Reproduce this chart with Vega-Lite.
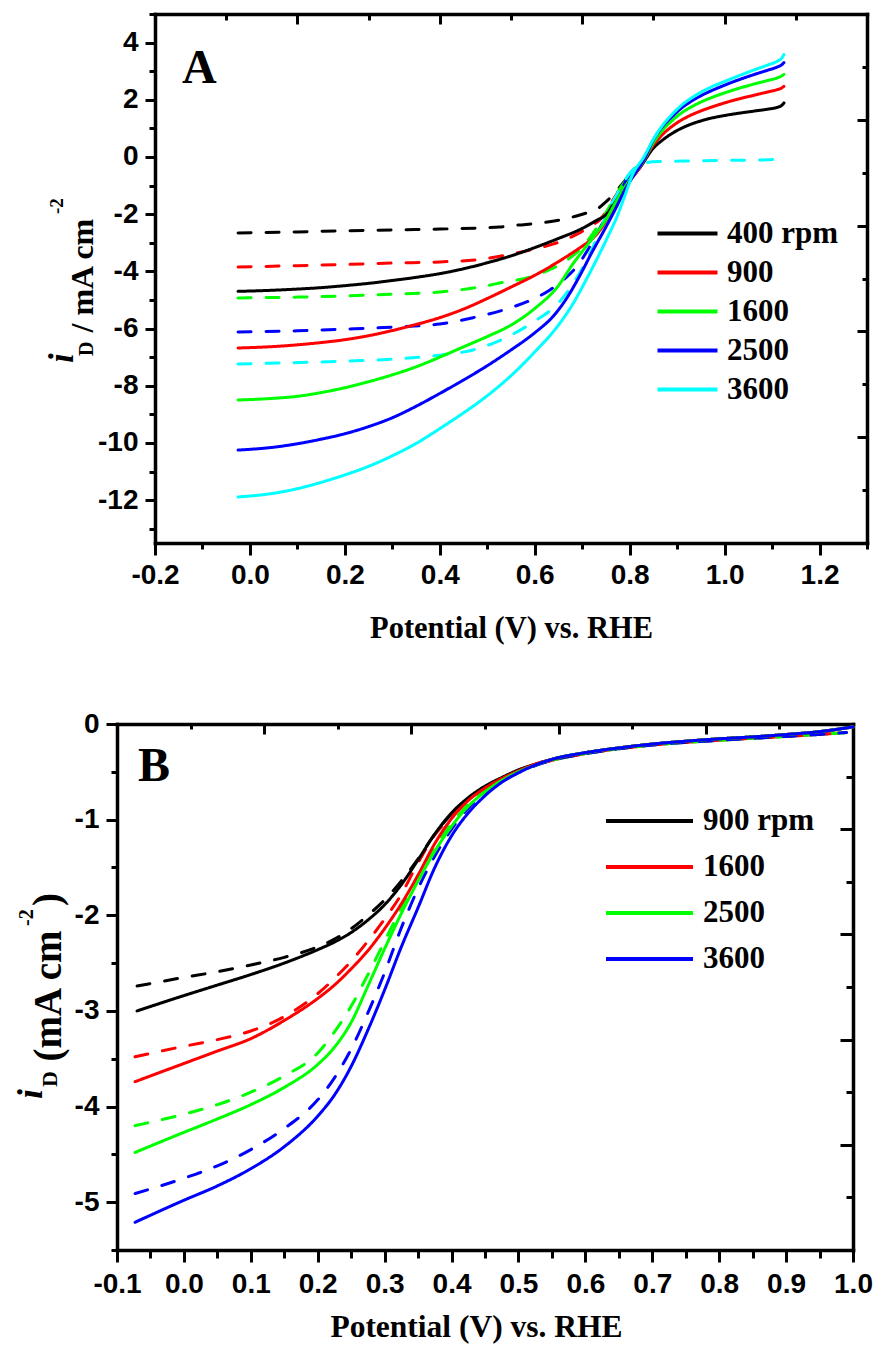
{
  "$schema": "https://vega.github.io/schema/vega-lite/v6.json",
  "padding": {"left": 7, "top": 0, "right": 4, "bottom": 2},
  "background": "white",
  "config": {
    "view": {"stroke": null},
    "axis": {
      "grid": false,
      "domainColor": "black",
      "domainWidth": 3.5,
      "domainCap": "square",
      "tickColor": "black",
      "tickWidth": 3,
      "labelColor": "black",
      "labelFont": "Liberation Sans",
      "labelFontWeight": "bold",
      "labelFontSize": 28,
      "labelFlush": false,
      "labelOverlap": false,
      "titleColor": "black",
      "titleFont": "Liberation Serif",
      "titleFontWeight": "bold"
    },
    "text": {"color": "black", "font": "Liberation Serif", "fontWeight": "bold"}
  },
  "datasets": {
    "curvesA": [
      {"rpm":"400 rpm","kind":"dashed","x":-0.025,"y":-2.66},{"rpm":"400 rpm","kind":"dashed","x":0.1,"y":-2.62},{"rpm":"400 rpm","kind":"dashed","x":0.2,"y":-2.58},{"rpm":"400 rpm","kind":"dashed","x":0.3,"y":-2.55},{"rpm":"400 rpm","kind":"dashed","x":0.4,"y":-2.52},{"rpm":"400 rpm","kind":"dashed","x":0.49,"y":-2.48},{"rpm":"400 rpm","kind":"dashed","x":0.526,"y":-2.45},{"rpm":"400 rpm","kind":"dashed","x":0.56,"y":-2.39},{"rpm":"400 rpm","kind":"dashed","x":0.617,"y":-2.3},{"rpm":"400 rpm","kind":"dashed","x":0.66,"y":-2.18},{"rpm":"400 rpm","kind":"dashed","x":0.695,"y":-2.03},{"rpm":"400 rpm","kind":"dashed","x":0.716,"y":-1.92},{"rpm":"400 rpm","kind":"dashed","x":0.735,"y":-1.78},{"rpm":"400 rpm","kind":"dashed","x":0.75,"y":-1.57},{"rpm":"400 rpm","kind":"dashed","x":0.765,"y":-1.32},{"rpm":"400 rpm","kind":"dashed","x":0.779,"y":-1.05},{"rpm":"400 rpm","kind":"dashed","x":0.795,"y":-0.72},{"rpm":"400 rpm","kind":"dashed","x":0.807,"y":-0.46},{"rpm":"400 rpm","kind":"dashed","x":0.815,"y":-0.36},
      {"rpm":"900","kind":"dashed","x":-0.025,"y":-3.85},{"rpm":"900","kind":"dashed","x":0.1,"y":-3.8},{"rpm":"900","kind":"dashed","x":0.2,"y":-3.76},{"rpm":"900","kind":"dashed","x":0.3,"y":-3.71},{"rpm":"900","kind":"dashed","x":0.4,"y":-3.67},{"rpm":"900","kind":"dashed","x":0.49,"y":-3.57},{"rpm":"900","kind":"dashed","x":0.554,"y":-3.38},{"rpm":"900","kind":"dashed","x":0.6,"y":-3.22},{"rpm":"900","kind":"dashed","x":0.638,"y":-3.05},{"rpm":"900","kind":"dashed","x":0.67,"y":-2.85},{"rpm":"900","kind":"dashed","x":0.7,"y":-2.6},{"rpm":"900","kind":"dashed","x":0.722,"y":-2.38},{"rpm":"900","kind":"dashed","x":0.737,"y":-2.2},{"rpm":"900","kind":"dashed","x":0.75,"y":-1.92},{"rpm":"900","kind":"dashed","x":0.765,"y":-1.5},{"rpm":"900","kind":"dashed","x":0.78,"y":-1.1},{"rpm":"900","kind":"dashed","x":0.795,"y":-0.75},{"rpm":"900","kind":"dashed","x":0.807,"y":-0.46},{"rpm":"900","kind":"dashed","x":0.815,"y":-0.36},
      {"rpm":"1600","kind":"dashed","x":-0.025,"y":-4.93},{"rpm":"1600","kind":"dashed","x":0.1,"y":-4.9},{"rpm":"1600","kind":"dashed","x":0.2,"y":-4.86},{"rpm":"1600","kind":"dashed","x":0.3,"y":-4.8},{"rpm":"1600","kind":"dashed","x":0.4,"y":-4.72},{"rpm":"1600","kind":"dashed","x":0.49,"y":-4.53},{"rpm":"1600","kind":"dashed","x":0.526,"y":-4.41},{"rpm":"1600","kind":"dashed","x":0.596,"y":-4.17},{"rpm":"1600","kind":"dashed","x":0.63,"y":-3.95},{"rpm":"1600","kind":"dashed","x":0.667,"y":-3.62},{"rpm":"1600","kind":"dashed","x":0.7,"y":-3.15},{"rpm":"1600","kind":"dashed","x":0.723,"y":-2.66},{"rpm":"1600","kind":"dashed","x":0.737,"y":-2.3},{"rpm":"1600","kind":"dashed","x":0.75,"y":-1.95},{"rpm":"1600","kind":"dashed","x":0.765,"y":-1.52},{"rpm":"1600","kind":"dashed","x":0.78,"y":-1.1},{"rpm":"1600","kind":"dashed","x":0.795,"y":-0.75},{"rpm":"1600","kind":"dashed","x":0.807,"y":-0.46},{"rpm":"1600","kind":"dashed","x":0.815,"y":-0.36},
      {"rpm":"2500","kind":"dashed","x":-0.025,"y":-6.12},{"rpm":"2500","kind":"dashed","x":0.1,"y":-6.08},{"rpm":"2500","kind":"dashed","x":0.2,"y":-6.02},{"rpm":"2500","kind":"dashed","x":0.3,"y":-5.95},{"rpm":"2500","kind":"dashed","x":0.4,"y":-5.84},{"rpm":"2500","kind":"dashed","x":0.47,"y":-5.62},{"rpm":"2500","kind":"dashed","x":0.54,"y":-5.32},{"rpm":"2500","kind":"dashed","x":0.59,"y":-5.02},{"rpm":"2500","kind":"dashed","x":0.632,"y":-4.65},{"rpm":"2500","kind":"dashed","x":0.66,"y":-4.3},{"rpm":"2500","kind":"dashed","x":0.688,"y":-3.84},{"rpm":"2500","kind":"dashed","x":0.71,"y":-3.3},{"rpm":"2500","kind":"dashed","x":0.73,"y":-2.7},{"rpm":"2500","kind":"dashed","x":0.745,"y":-2.25},{"rpm":"2500","kind":"dashed","x":0.76,"y":-1.8},{"rpm":"2500","kind":"dashed","x":0.775,"y":-1.35},{"rpm":"2500","kind":"dashed","x":0.79,"y":-0.9},{"rpm":"2500","kind":"dashed","x":0.807,"y":-0.46},{"rpm":"2500","kind":"dashed","x":0.815,"y":-0.36},
      {"rpm":"3600","kind":"dashed","x":-0.025,"y":-7.24},{"rpm":"3600","kind":"dashed","x":0.1,"y":-7.19},{"rpm":"3600","kind":"dashed","x":0.2,"y":-7.14},{"rpm":"3600","kind":"dashed","x":0.3,"y":-7.07},{"rpm":"3600","kind":"dashed","x":0.4,"y":-6.93},{"rpm":"3600","kind":"dashed","x":0.47,"y":-6.75},{"rpm":"3600","kind":"dashed","x":0.526,"y":-6.42},{"rpm":"3600","kind":"dashed","x":0.596,"y":-5.78},{"rpm":"3600","kind":"dashed","x":0.653,"y":-5.05},{"rpm":"3600","kind":"dashed","x":0.68,"y":-4.45},{"rpm":"3600","kind":"dashed","x":0.709,"y":-3.62},{"rpm":"3600","kind":"dashed","x":0.737,"y":-2.6},{"rpm":"3600","kind":"dashed","x":0.755,"y":-1.85},{"rpm":"3600","kind":"dashed","x":0.77,"y":-1.4},{"rpm":"3600","kind":"dashed","x":0.785,"y":-0.95},{"rpm":"3600","kind":"dashed","x":0.8,"y":-0.58},{"rpm":"3600","kind":"dashed","x":0.81,"y":-0.4},{"rpm":"3600","kind":"dashed","x":0.82,"y":-0.28},{"rpm":"3600","kind":"dashed","x":0.835,"y":-0.2},{"rpm":"3600","kind":"dashed","x":0.86,"y":-0.16},{"rpm":"3600","kind":"dashed","x":0.891,"y":-0.15},{"rpm":"3600","kind":"dashed","x":0.95,"y":-0.13},{"rpm":"3600","kind":"dashed","x":1.0,"y":-0.12},{"rpm":"3600","kind":"dashed","x":1.05,"y":-0.11},{"rpm":"3600","kind":"dashed","x":1.09,"y":-0.1},{"rpm":"3600","kind":"dashed","x":1.11,"y":-0.07},{"rpm":"3600","kind":"dashed","x":1.12,"y":0.02},{"rpm":"3600","kind":"dashed","x":1.125,"y":0.14},
      {"rpm":"400 rpm","kind":"solid","x":-0.025,"y":-4.7},{"rpm":"400 rpm","kind":"solid","x":0.05,"y":-4.66},{"rpm":"400 rpm","kind":"solid","x":0.1,"y":-4.62},{"rpm":"400 rpm","kind":"solid","x":0.15,"y":-4.57},{"rpm":"400 rpm","kind":"solid","x":0.2,"y":-4.5},{"rpm":"400 rpm","kind":"solid","x":0.25,"y":-4.42},{"rpm":"400 rpm","kind":"solid","x":0.3,"y":-4.32},{"rpm":"400 rpm","kind":"solid","x":0.35,"y":-4.21},{"rpm":"400 rpm","kind":"solid","x":0.4,"y":-4.08},{"rpm":"400 rpm","kind":"solid","x":0.45,"y":-3.91},{"rpm":"400 rpm","kind":"solid","x":0.5,"y":-3.7},{"rpm":"400 rpm","kind":"solid","x":0.55,"y":-3.46},{"rpm":"400 rpm","kind":"solid","x":0.6,"y":-3.17},{"rpm":"400 rpm","kind":"solid","x":0.65,"y":-2.85},{"rpm":"400 rpm","kind":"solid","x":0.7,"y":-2.5},{"rpm":"400 rpm","kind":"solid","x":0.73,"y":-2.22},{"rpm":"400 rpm","kind":"solid","x":0.75,"y":-2.02},{"rpm":"400 rpm","kind":"solid","x":0.773,"y":-1.5},{"rpm":"400 rpm","kind":"solid","x":0.79,"y":-1.05},{"rpm":"400 rpm","kind":"solid","x":0.805,"y":-0.72},{"rpm":"400 rpm","kind":"solid","x":0.821,"y":-0.39},{"rpm":"400 rpm","kind":"solid","x":0.85,"y":0.31},{"rpm":"400 rpm","kind":"solid","x":0.87,"y":0.6},{"rpm":"400 rpm","kind":"solid","x":0.89,"y":0.83},{"rpm":"400 rpm","kind":"solid","x":0.91,"y":1.01},{"rpm":"400 rpm","kind":"solid","x":0.93,"y":1.15},{"rpm":"400 rpm","kind":"solid","x":0.95,"y":1.26},{"rpm":"400 rpm","kind":"solid","x":0.97,"y":1.35},{"rpm":"400 rpm","kind":"solid","x":1.0,"y":1.45},{"rpm":"400 rpm","kind":"solid","x":1.03,"y":1.53},{"rpm":"400 rpm","kind":"solid","x":1.06,"y":1.6},{"rpm":"400 rpm","kind":"solid","x":1.09,"y":1.67},{"rpm":"400 rpm","kind":"solid","x":1.11,"y":1.73},{"rpm":"400 rpm","kind":"solid","x":1.12,"y":1.8},{"rpm":"400 rpm","kind":"solid","x":1.125,"y":1.89},
      {"rpm":"900","kind":"solid","x":-0.025,"y":-6.68},{"rpm":"900","kind":"solid","x":0.05,"y":-6.63},{"rpm":"900","kind":"solid","x":0.1,"y":-6.57},{"rpm":"900","kind":"solid","x":0.15,"y":-6.49},{"rpm":"900","kind":"solid","x":0.2,"y":-6.39},{"rpm":"900","kind":"solid","x":0.25,"y":-6.25},{"rpm":"900","kind":"solid","x":0.3,"y":-6.07},{"rpm":"900","kind":"solid","x":0.35,"y":-5.86},{"rpm":"900","kind":"solid","x":0.4,"y":-5.62},{"rpm":"900","kind":"solid","x":0.45,"y":-5.32},{"rpm":"900","kind":"solid","x":0.5,"y":-4.95},{"rpm":"900","kind":"solid","x":0.55,"y":-4.55},{"rpm":"900","kind":"solid","x":0.6,"y":-4.14},{"rpm":"900","kind":"solid","x":0.65,"y":-3.66},{"rpm":"900","kind":"solid","x":0.7,"y":-3.12},{"rpm":"900","kind":"solid","x":0.72,"y":-2.88},{"rpm":"900","kind":"solid","x":0.74,"y":-2.5},{"rpm":"900","kind":"solid","x":0.76,"y":-1.95},{"rpm":"900","kind":"solid","x":0.78,"y":-1.35},{"rpm":"900","kind":"solid","x":0.8,"y":-0.85},{"rpm":"900","kind":"solid","x":0.82,"y":-0.4},{"rpm":"900","kind":"solid","x":0.85,"y":0.42},{"rpm":"900","kind":"solid","x":0.87,"y":0.8},{"rpm":"900","kind":"solid","x":0.89,"y":1.08},{"rpm":"900","kind":"solid","x":0.91,"y":1.3},{"rpm":"900","kind":"solid","x":0.93,"y":1.47},{"rpm":"900","kind":"solid","x":0.95,"y":1.61},{"rpm":"900","kind":"solid","x":0.97,"y":1.73},{"rpm":"900","kind":"solid","x":1.0,"y":1.89},{"rpm":"900","kind":"solid","x":1.03,"y":2.03},{"rpm":"900","kind":"solid","x":1.06,"y":2.15},{"rpm":"900","kind":"solid","x":1.09,"y":2.27},{"rpm":"900","kind":"solid","x":1.11,"y":2.35},{"rpm":"900","kind":"solid","x":1.12,"y":2.41},{"rpm":"900","kind":"solid","x":1.125,"y":2.47},
      {"rpm":"1600","kind":"solid","x":-0.025,"y":-8.5},{"rpm":"1600","kind":"solid","x":0.05,"y":-8.44},{"rpm":"1600","kind":"solid","x":0.1,"y":-8.37},{"rpm":"1600","kind":"solid","x":0.15,"y":-8.24},{"rpm":"1600","kind":"solid","x":0.2,"y":-8.07},{"rpm":"1600","kind":"solid","x":0.25,"y":-7.86},{"rpm":"1600","kind":"solid","x":0.3,"y":-7.62},{"rpm":"1600","kind":"solid","x":0.35,"y":-7.34},{"rpm":"1600","kind":"solid","x":0.4,"y":-7.0},{"rpm":"1600","kind":"solid","x":0.45,"y":-6.64},{"rpm":"1600","kind":"solid","x":0.5,"y":-6.28},{"rpm":"1600","kind":"solid","x":0.55,"y":-5.88},{"rpm":"1600","kind":"solid","x":0.6,"y":-5.3},{"rpm":"1600","kind":"solid","x":0.65,"y":-4.5},{"rpm":"1600","kind":"solid","x":0.68,"y":-3.75},{"rpm":"1600","kind":"solid","x":0.705,"y":-3.2},{"rpm":"1600","kind":"solid","x":0.73,"y":-2.66},{"rpm":"1600","kind":"solid","x":0.75,"y":-2.2},{"rpm":"1600","kind":"solid","x":0.77,"y":-1.6},{"rpm":"1600","kind":"solid","x":0.79,"y":-1.05},{"rpm":"1600","kind":"solid","x":0.81,"y":-0.58},{"rpm":"1600","kind":"solid","x":0.825,"y":-0.25},{"rpm":"1600","kind":"solid","x":0.85,"y":0.5},{"rpm":"1600","kind":"solid","x":0.87,"y":0.95},{"rpm":"1600","kind":"solid","x":0.89,"y":1.28},{"rpm":"1600","kind":"solid","x":0.91,"y":1.55},{"rpm":"1600","kind":"solid","x":0.93,"y":1.75},{"rpm":"1600","kind":"solid","x":0.95,"y":1.92},{"rpm":"1600","kind":"solid","x":0.97,"y":2.06},{"rpm":"1600","kind":"solid","x":1.0,"y":2.24},{"rpm":"1600","kind":"solid","x":1.03,"y":2.4},{"rpm":"1600","kind":"solid","x":1.06,"y":2.54},{"rpm":"1600","kind":"solid","x":1.09,"y":2.67},{"rpm":"1600","kind":"solid","x":1.11,"y":2.76},{"rpm":"1600","kind":"solid","x":1.12,"y":2.83},{"rpm":"1600","kind":"solid","x":1.125,"y":2.89},
      {"rpm":"2500","kind":"solid","x":-0.025,"y":-10.25},{"rpm":"2500","kind":"solid","x":0.05,"y":-10.15},{"rpm":"2500","kind":"solid","x":0.1,"y":-10.03},{"rpm":"2500","kind":"solid","x":0.15,"y":-9.87},{"rpm":"2500","kind":"solid","x":0.2,"y":-9.68},{"rpm":"2500","kind":"solid","x":0.25,"y":-9.43},{"rpm":"2500","kind":"solid","x":0.3,"y":-9.12},{"rpm":"2500","kind":"solid","x":0.35,"y":-8.72},{"rpm":"2500","kind":"solid","x":0.4,"y":-8.27},{"rpm":"2500","kind":"solid","x":0.45,"y":-7.8},{"rpm":"2500","kind":"solid","x":0.5,"y":-7.3},{"rpm":"2500","kind":"solid","x":0.55,"y":-6.75},{"rpm":"2500","kind":"solid","x":0.6,"y":-6.15},{"rpm":"2500","kind":"solid","x":0.64,"y":-5.55},{"rpm":"2500","kind":"solid","x":0.667,"y":-4.95},{"rpm":"2500","kind":"solid","x":0.695,"y":-4.15},{"rpm":"2500","kind":"solid","x":0.72,"y":-3.35},{"rpm":"2500","kind":"solid","x":0.75,"y":-2.45},{"rpm":"2500","kind":"solid","x":0.77,"y":-1.82},{"rpm":"2500","kind":"solid","x":0.79,"y":-1.15},{"rpm":"2500","kind":"solid","x":0.81,"y":-0.6},{"rpm":"2500","kind":"solid","x":0.83,"y":-0.1},{"rpm":"2500","kind":"solid","x":0.85,"y":0.6},{"rpm":"2500","kind":"solid","x":0.87,"y":1.08},{"rpm":"2500","kind":"solid","x":0.89,"y":1.42},{"rpm":"2500","kind":"solid","x":0.91,"y":1.72},{"rpm":"2500","kind":"solid","x":0.93,"y":1.95},{"rpm":"2500","kind":"solid","x":0.95,"y":2.14},{"rpm":"2500","kind":"solid","x":0.97,"y":2.3},{"rpm":"2500","kind":"solid","x":1.0,"y":2.51},{"rpm":"2500","kind":"solid","x":1.03,"y":2.7},{"rpm":"2500","kind":"solid","x":1.06,"y":2.87},{"rpm":"2500","kind":"solid","x":1.09,"y":3.03},{"rpm":"2500","kind":"solid","x":1.11,"y":3.14},{"rpm":"2500","kind":"solid","x":1.12,"y":3.22},{"rpm":"2500","kind":"solid","x":1.125,"y":3.3},
      {"rpm":"3600","kind":"solid","x":-0.025,"y":-11.89},{"rpm":"3600","kind":"solid","x":0.05,"y":-11.76},{"rpm":"3600","kind":"solid","x":0.1,"y":-11.6},{"rpm":"3600","kind":"solid","x":0.15,"y":-11.38},{"rpm":"3600","kind":"solid","x":0.2,"y":-11.12},{"rpm":"3600","kind":"solid","x":0.25,"y":-10.82},{"rpm":"3600","kind":"solid","x":0.3,"y":-10.45},{"rpm":"3600","kind":"solid","x":0.35,"y":-10.02},{"rpm":"3600","kind":"solid","x":0.4,"y":-9.5},{"rpm":"3600","kind":"solid","x":0.45,"y":-8.95},{"rpm":"3600","kind":"solid","x":0.5,"y":-8.35},{"rpm":"3600","kind":"solid","x":0.55,"y":-7.65},{"rpm":"3600","kind":"solid","x":0.6,"y":-6.82},{"rpm":"3600","kind":"solid","x":0.65,"y":-5.88},{"rpm":"3600","kind":"solid","x":0.68,"y":-5.15},{"rpm":"3600","kind":"solid","x":0.705,"y":-4.4},{"rpm":"3600","kind":"solid","x":0.73,"y":-3.6},{"rpm":"3600","kind":"solid","x":0.755,"y":-2.75},{"rpm":"3600","kind":"solid","x":0.773,"y":-2.1},{"rpm":"3600","kind":"solid","x":0.79,"y":-1.35},{"rpm":"3600","kind":"solid","x":0.806,"y":-0.62},{"rpm":"3600","kind":"solid","x":0.83,"y":0.0},{"rpm":"3600","kind":"solid","x":0.85,"y":0.62},{"rpm":"3600","kind":"solid","x":0.87,"y":1.12},{"rpm":"3600","kind":"solid","x":0.89,"y":1.5},{"rpm":"3600","kind":"solid","x":0.91,"y":1.82},{"rpm":"3600","kind":"solid","x":0.93,"y":2.06},{"rpm":"3600","kind":"solid","x":0.95,"y":2.26},{"rpm":"3600","kind":"solid","x":0.97,"y":2.43},{"rpm":"3600","kind":"solid","x":1.0,"y":2.64},{"rpm":"3600","kind":"solid","x":1.03,"y":2.84},{"rpm":"3600","kind":"solid","x":1.06,"y":3.03},{"rpm":"3600","kind":"solid","x":1.09,"y":3.21},{"rpm":"3600","kind":"solid","x":1.11,"y":3.34},{"rpm":"3600","kind":"solid","x":1.12,"y":3.45},{"rpm":"3600","kind":"solid","x":1.125,"y":3.58}
    ],
    "curvesB": [
      {"rpm":"900 rpm","kind":"dashed","x":-0.07,"y":-2.74},{"rpm":"900 rpm","kind":"dashed","x":0.0,"y":-2.65},{"rpm":"900 rpm","kind":"dashed","x":0.05,"y":-2.59},{"rpm":"900 rpm","kind":"dashed","x":0.1,"y":-2.52},{"rpm":"900 rpm","kind":"dashed","x":0.15,"y":-2.44},{"rpm":"900 rpm","kind":"dashed","x":0.2,"y":-2.33},{"rpm":"900 rpm","kind":"dashed","x":0.225,"y":-2.25},{"rpm":"900 rpm","kind":"dashed","x":0.25,"y":-2.14},{"rpm":"900 rpm","kind":"dashed","x":0.275,"y":-2.0},{"rpm":"900 rpm","kind":"dashed","x":0.3,"y":-1.84},{"rpm":"900 rpm","kind":"dashed","x":0.325,"y":-1.64},{"rpm":"900 rpm","kind":"dashed","x":0.35,"y":-1.41},{"rpm":"900 rpm","kind":"dashed","x":0.375,"y":-1.15},{"rpm":"900 rpm","kind":"dashed","x":0.4,"y":-0.94},{"rpm":"900 rpm","kind":"dashed","x":0.425,"y":-0.78},{"rpm":"900 rpm","kind":"dashed","x":0.45,"y":-0.66},{"rpm":"900 rpm","kind":"dashed","x":0.5,"y":-0.49},{"rpm":"900 rpm","kind":"dashed","x":0.55,"y":-0.38},{"rpm":"900 rpm","kind":"dashed","x":0.6,"y":-0.31},{"rpm":"900 rpm","kind":"dashed","x":0.7,"y":-0.22},{"rpm":"900 rpm","kind":"dashed","x":0.8,"y":-0.17},{"rpm":"900 rpm","kind":"dashed","x":0.9,"y":-0.13},{"rpm":"900 rpm","kind":"dashed","x":0.99,"y":-0.09},
      {"rpm":"1600","kind":"dashed","x":-0.073,"y":-3.48},{"rpm":"1600","kind":"dashed","x":0.0,"y":-3.37},{"rpm":"1600","kind":"dashed","x":0.05,"y":-3.3},{"rpm":"1600","kind":"dashed","x":0.1,"y":-3.21},{"rpm":"1600","kind":"dashed","x":0.15,"y":-3.06},{"rpm":"1600","kind":"dashed","x":0.2,"y":-2.82},{"rpm":"1600","kind":"dashed","x":0.225,"y":-2.66},{"rpm":"1600","kind":"dashed","x":0.25,"y":-2.48},{"rpm":"1600","kind":"dashed","x":0.275,"y":-2.27},{"rpm":"1600","kind":"dashed","x":0.3,"y":-2.04},{"rpm":"1600","kind":"dashed","x":0.325,"y":-1.78},{"rpm":"1600","kind":"dashed","x":0.35,"y":-1.45},{"rpm":"1600","kind":"dashed","x":0.375,"y":-1.16},{"rpm":"1600","kind":"dashed","x":0.4,"y":-0.96},{"rpm":"1600","kind":"dashed","x":0.425,"y":-0.79},{"rpm":"1600","kind":"dashed","x":0.45,"y":-0.67},{"rpm":"1600","kind":"dashed","x":0.5,"y":-0.49},{"rpm":"1600","kind":"dashed","x":0.55,"y":-0.38},{"rpm":"1600","kind":"dashed","x":0.6,"y":-0.31},{"rpm":"1600","kind":"dashed","x":0.7,"y":-0.22},{"rpm":"1600","kind":"dashed","x":0.8,"y":-0.17},{"rpm":"1600","kind":"dashed","x":0.9,"y":-0.13},{"rpm":"1600","kind":"dashed","x":0.99,"y":-0.09},
      {"rpm":"2500","kind":"dashed","x":-0.073,"y":-4.2},{"rpm":"2500","kind":"dashed","x":0.0,"y":-4.08},{"rpm":"2500","kind":"dashed","x":0.05,"y":-3.98},{"rpm":"2500","kind":"dashed","x":0.1,"y":-3.85},{"rpm":"2500","kind":"dashed","x":0.15,"y":-3.68},{"rpm":"2500","kind":"dashed","x":0.2,"y":-3.44},{"rpm":"2500","kind":"dashed","x":0.225,"y":-3.22},{"rpm":"2500","kind":"dashed","x":0.25,"y":-2.95},{"rpm":"2500","kind":"dashed","x":0.275,"y":-2.62},{"rpm":"2500","kind":"dashed","x":0.3,"y":-2.27},{"rpm":"2500","kind":"dashed","x":0.325,"y":-1.92},{"rpm":"2500","kind":"dashed","x":0.35,"y":-1.58},{"rpm":"2500","kind":"dashed","x":0.375,"y":-1.28},{"rpm":"2500","kind":"dashed","x":0.4,"y":-1.04},{"rpm":"2500","kind":"dashed","x":0.425,"y":-0.84},{"rpm":"2500","kind":"dashed","x":0.45,"y":-0.69},{"rpm":"2500","kind":"dashed","x":0.5,"y":-0.5},{"rpm":"2500","kind":"dashed","x":0.55,"y":-0.38},{"rpm":"2500","kind":"dashed","x":0.6,"y":-0.31},{"rpm":"2500","kind":"dashed","x":0.7,"y":-0.22},{"rpm":"2500","kind":"dashed","x":0.8,"y":-0.17},{"rpm":"2500","kind":"dashed","x":0.9,"y":-0.13},{"rpm":"2500","kind":"dashed","x":0.99,"y":-0.09},
      {"rpm":"3600","kind":"dashed","x":-0.073,"y":-4.91},{"rpm":"3600","kind":"dashed","x":0.0,"y":-4.75},{"rpm":"3600","kind":"dashed","x":0.05,"y":-4.62},{"rpm":"3600","kind":"dashed","x":0.1,"y":-4.45},{"rpm":"3600","kind":"dashed","x":0.15,"y":-4.23},{"rpm":"3600","kind":"dashed","x":0.2,"y":-3.93},{"rpm":"3600","kind":"dashed","x":0.225,"y":-3.7},{"rpm":"3600","kind":"dashed","x":0.25,"y":-3.4},{"rpm":"3600","kind":"dashed","x":0.275,"y":-3.02},{"rpm":"3600","kind":"dashed","x":0.3,"y":-2.6},{"rpm":"3600","kind":"dashed","x":0.325,"y":-2.13},{"rpm":"3600","kind":"dashed","x":0.35,"y":-1.72},{"rpm":"3600","kind":"dashed","x":0.375,"y":-1.38},{"rpm":"3600","kind":"dashed","x":0.4,"y":-1.1},{"rpm":"3600","kind":"dashed","x":0.425,"y":-0.88},{"rpm":"3600","kind":"dashed","x":0.45,"y":-0.72},{"rpm":"3600","kind":"dashed","x":0.5,"y":-0.51},{"rpm":"3600","kind":"dashed","x":0.55,"y":-0.38},{"rpm":"3600","kind":"dashed","x":0.6,"y":-0.31},{"rpm":"3600","kind":"dashed","x":0.7,"y":-0.22},{"rpm":"3600","kind":"dashed","x":0.8,"y":-0.17},{"rpm":"3600","kind":"dashed","x":0.9,"y":-0.13},{"rpm":"3600","kind":"dashed","x":0.99,"y":-0.09},
      {"rpm":"900 rpm","kind":"solid","x":-0.07,"y":-3.0},{"rpm":"900 rpm","kind":"solid","x":0.0,"y":-2.84},{"rpm":"900 rpm","kind":"solid","x":0.05,"y":-2.73},{"rpm":"900 rpm","kind":"solid","x":0.1,"y":-2.62},{"rpm":"900 rpm","kind":"solid","x":0.15,"y":-2.5},{"rpm":"900 rpm","kind":"solid","x":0.2,"y":-2.36},{"rpm":"900 rpm","kind":"solid","x":0.225,"y":-2.28},{"rpm":"900 rpm","kind":"solid","x":0.25,"y":-2.18},{"rpm":"900 rpm","kind":"solid","x":0.275,"y":-2.05},{"rpm":"900 rpm","kind":"solid","x":0.3,"y":-1.89},{"rpm":"900 rpm","kind":"solid","x":0.325,"y":-1.68},{"rpm":"900 rpm","kind":"solid","x":0.35,"y":-1.42},{"rpm":"900 rpm","kind":"solid","x":0.375,"y":-1.15},{"rpm":"900 rpm","kind":"solid","x":0.4,"y":-0.93},{"rpm":"900 rpm","kind":"solid","x":0.425,"y":-0.77},{"rpm":"900 rpm","kind":"solid","x":0.45,"y":-0.65},{"rpm":"900 rpm","kind":"solid","x":0.475,"y":-0.56},{"rpm":"900 rpm","kind":"solid","x":0.5,"y":-0.48},{"rpm":"900 rpm","kind":"solid","x":0.525,"y":-0.42},{"rpm":"900 rpm","kind":"solid","x":0.55,"y":-0.37},{"rpm":"900 rpm","kind":"solid","x":0.6,"y":-0.3},{"rpm":"900 rpm","kind":"solid","x":0.65,"y":-0.25},{"rpm":"900 rpm","kind":"solid","x":0.7,"y":-0.21},{"rpm":"900 rpm","kind":"solid","x":0.75,"y":-0.18},{"rpm":"900 rpm","kind":"solid","x":0.8,"y":-0.155},{"rpm":"900 rpm","kind":"solid","x":0.85,"y":-0.135},{"rpm":"900 rpm","kind":"solid","x":0.9,"y":-0.11},{"rpm":"900 rpm","kind":"solid","x":0.95,"y":-0.08},{"rpm":"900 rpm","kind":"solid","x":1.0,"y":-0.03},
      {"rpm":"1600","kind":"solid","x":-0.073,"y":-3.74},{"rpm":"1600","kind":"solid","x":0.0,"y":-3.55},{"rpm":"1600","kind":"solid","x":0.05,"y":-3.42},{"rpm":"1600","kind":"solid","x":0.1,"y":-3.29},{"rpm":"1600","kind":"solid","x":0.15,"y":-3.1},{"rpm":"1600","kind":"solid","x":0.2,"y":-2.87},{"rpm":"1600","kind":"solid","x":0.225,"y":-2.73},{"rpm":"1600","kind":"solid","x":0.25,"y":-2.56},{"rpm":"1600","kind":"solid","x":0.275,"y":-2.37},{"rpm":"1600","kind":"solid","x":0.3,"y":-2.14},{"rpm":"1600","kind":"solid","x":0.325,"y":-1.88},{"rpm":"1600","kind":"solid","x":0.35,"y":-1.58},{"rpm":"1600","kind":"solid","x":0.375,"y":-1.25},{"rpm":"1600","kind":"solid","x":0.4,"y":-0.99},{"rpm":"1600","kind":"solid","x":0.425,"y":-0.8},{"rpm":"1600","kind":"solid","x":0.45,"y":-0.67},{"rpm":"1600","kind":"solid","x":0.475,"y":-0.57},{"rpm":"1600","kind":"solid","x":0.5,"y":-0.49},{"rpm":"1600","kind":"solid","x":0.525,"y":-0.42},{"rpm":"1600","kind":"solid","x":0.55,"y":-0.37},{"rpm":"1600","kind":"solid","x":0.6,"y":-0.3},{"rpm":"1600","kind":"solid","x":0.65,"y":-0.25},{"rpm":"1600","kind":"solid","x":0.7,"y":-0.21},{"rpm":"1600","kind":"solid","x":0.75,"y":-0.18},{"rpm":"1600","kind":"solid","x":0.8,"y":-0.155},{"rpm":"1600","kind":"solid","x":0.85,"y":-0.135},{"rpm":"1600","kind":"solid","x":0.9,"y":-0.11},{"rpm":"1600","kind":"solid","x":0.95,"y":-0.08},{"rpm":"1600","kind":"solid","x":1.0,"y":-0.03},
      {"rpm":"2500","kind":"solid","x":-0.073,"y":-4.48},{"rpm":"2500","kind":"solid","x":0.0,"y":-4.27},{"rpm":"2500","kind":"solid","x":0.05,"y":-4.13},{"rpm":"2500","kind":"solid","x":0.1,"y":-3.98},{"rpm":"2500","kind":"solid","x":0.15,"y":-3.8},{"rpm":"2500","kind":"solid","x":0.2,"y":-3.56},{"rpm":"2500","kind":"solid","x":0.225,"y":-3.38},{"rpm":"2500","kind":"solid","x":0.25,"y":-3.12},{"rpm":"2500","kind":"solid","x":0.275,"y":-2.74},{"rpm":"2500","kind":"solid","x":0.3,"y":-2.35},{"rpm":"2500","kind":"solid","x":0.325,"y":-1.98},{"rpm":"2500","kind":"solid","x":0.35,"y":-1.64},{"rpm":"2500","kind":"solid","x":0.375,"y":-1.33},{"rpm":"2500","kind":"solid","x":0.4,"y":-1.07},{"rpm":"2500","kind":"solid","x":0.425,"y":-0.86},{"rpm":"2500","kind":"solid","x":0.45,"y":-0.71},{"rpm":"2500","kind":"solid","x":0.475,"y":-0.59},{"rpm":"2500","kind":"solid","x":0.5,"y":-0.5},{"rpm":"2500","kind":"solid","x":0.525,"y":-0.43},{"rpm":"2500","kind":"solid","x":0.55,"y":-0.37},{"rpm":"2500","kind":"solid","x":0.6,"y":-0.3},{"rpm":"2500","kind":"solid","x":0.65,"y":-0.25},{"rpm":"2500","kind":"solid","x":0.7,"y":-0.21},{"rpm":"2500","kind":"solid","x":0.75,"y":-0.18},{"rpm":"2500","kind":"solid","x":0.8,"y":-0.155},{"rpm":"2500","kind":"solid","x":0.85,"y":-0.135},{"rpm":"2500","kind":"solid","x":0.9,"y":-0.11},{"rpm":"2500","kind":"solid","x":0.95,"y":-0.08},{"rpm":"2500","kind":"solid","x":1.0,"y":-0.03},
      {"rpm":"3600","kind":"solid","x":-0.073,"y":-5.21},{"rpm":"3600","kind":"solid","x":0.0,"y":-4.98},{"rpm":"3600","kind":"solid","x":0.05,"y":-4.83},{"rpm":"3600","kind":"solid","x":0.1,"y":-4.65},{"rpm":"3600","kind":"solid","x":0.15,"y":-4.42},{"rpm":"3600","kind":"solid","x":0.2,"y":-4.1},{"rpm":"3600","kind":"solid","x":0.225,"y":-3.88},{"rpm":"3600","kind":"solid","x":0.25,"y":-3.58},{"rpm":"3600","kind":"solid","x":0.275,"y":-3.2},{"rpm":"3600","kind":"solid","x":0.3,"y":-2.78},{"rpm":"3600","kind":"solid","x":0.325,"y":-2.33},{"rpm":"3600","kind":"solid","x":0.35,"y":-1.92},{"rpm":"3600","kind":"solid","x":0.375,"y":-1.5},{"rpm":"3600","kind":"solid","x":0.4,"y":-1.17},{"rpm":"3600","kind":"solid","x":0.425,"y":-0.93},{"rpm":"3600","kind":"solid","x":0.45,"y":-0.75},{"rpm":"3600","kind":"solid","x":0.475,"y":-0.61},{"rpm":"3600","kind":"solid","x":0.5,"y":-0.51},{"rpm":"3600","kind":"solid","x":0.525,"y":-0.43},{"rpm":"3600","kind":"solid","x":0.55,"y":-0.37},{"rpm":"3600","kind":"solid","x":0.6,"y":-0.3},{"rpm":"3600","kind":"solid","x":0.65,"y":-0.25},{"rpm":"3600","kind":"solid","x":0.7,"y":-0.21},{"rpm":"3600","kind":"solid","x":0.75,"y":-0.18},{"rpm":"3600","kind":"solid","x":0.8,"y":-0.155},{"rpm":"3600","kind":"solid","x":0.85,"y":-0.135},{"rpm":"3600","kind":"solid","x":0.9,"y":-0.11},{"rpm":"3600","kind":"solid","x":0.95,"y":-0.08},{"rpm":"3600","kind":"solid","x":1.0,"y":-0.03}
    ]
  },
  "concat": [
    {
      "width": 750,
      "height": 529,
      "resolve": {"axis": {"x": "independent", "y": "independent"}},
      "layer": [
        {
          "data": {"name": "curvesA"},
          "mark": {"type": "line", "strokeWidth": 3, "interpolate": "monotone", "strokeCap": "round"},
          "encoding": {
            "x": {"field": "x", "type": "quantitative", "scale": {"domain": [-0.2, 1.3], "range": [38, 750], "nice": false, "zero": false},
              "axis": {"orient": "bottom", "values": [-0.2,-0.1,0,0.1,0.2,0.3,0.4,0.5,0.6,0.7,0.8,0.9,1.0,1.1,1.2,1.3],
                "labelExpr": "abs(round(datum.value*10)) % 2 == 0 ? replace(format(datum.value, '.1f'), '\u2212', '-') : ''",
                "tickSize": {"condition": {"test": "abs(round(datum.value*10)) % 2 == 0", "value": 12}, "value": 6},
                "labelPadding": 6,
                "title": "Potential (V) vs. RHE", "titleFontSize": 30.5, "titleX": 394, "titleY": 94, "titleAlign": "center", "titleBaseline": "alphabetic"}},
            "y": {"field": "y", "type": "quantitative", "scale": {"domain": [-13.5, 5], "nice": false, "zero": false},
              "axis": {"orient": "left", "offset": -38, "values": [-13,-12,-11,-10,-9,-8,-7,-6,-5,-4,-3,-2,-1,0,1,2,3,4,5],
                "labelExpr": "datum.value % 2 == 0 ? replace(format(datum.value, 'd'), '\u2212', '-') : ''",
                "tickSize": {"condition": {"test": "datum.value % 2 == 0", "value": 10}, "value": 6},
                "labelPadding": 7,
                "title": "/ mA cm", "titleFontSize": 32, "titleAngle": 270, "titleX": -63, "titleY": 318, "titleAlign": "left", "titleBaseline": "alphabetic"}},
            "color": {"field": "rpm", "type": "nominal",
              "scale": {"domain": ["400 rpm", "900", "1600", "2500", "3600"], "range": ["#000000", "#ff0000", "#00ff00", "#0000ff", "#00ffff"]},
              "legend": {"orient": "none", "legendX": 575, "legendY": 204, "title": null, "padding": 0,
                "symbolType": "M-5,0H1", "symbolSize": 400, "symbolStrokeWidth": 4,
                "labelFont": "Liberation Serif", "labelFontSize": 31, "labelFontWeight": "bold", "labelColor": "black",
                "labelOffset": 4, "rowPadding": 7,
                "labelExpr": "datum.label == '400 rpm' ? '\u00a0\u00a0400 rpm' : datum.label"}},
            "strokeDash": {"field": "kind", "type": "nominal", "scale": {"domain": ["dashed", "solid"], "range": [[13, 15], [1, 0]]}, "legend": null}
          }
        },
        {
          "data": {"values": [{"x": -0.1432, "y": 2.587, "t": "A"}]},
          "mark": {"type": "text", "fontSize": 48, "align": "left", "baseline": "alphabetic"},
          "encoding": {
            "x": {"field": "x", "type": "quantitative", "scale": {"domain": [-0.2, 1.3], "range": [38, 750], "nice": false, "zero": false},
              "axis": {"orient": "top", "values": [-0.05,0.1,0.25,0.4,0.55,0.7,0.85,1.0,1.15], "labels": false, "title": null, "minExtent": 14,
                "tickSize": {"condition": {"test": "round((datum.value+0.2)/0.15) % 2 == 0", "value": -10}, "value": -6}}},
            "y": {"field": "y", "type": "quantitative", "scale": {"domain": [-13.5, 5], "nice": false, "zero": false},
              "axis": {"orient": "right", "values": [3.15,1.3,-0.55,-2.4,-4.25,-6.1,-7.95,-9.8,-11.65], "labels": false, "title": null,
                "tickSize": {"condition": {"test": "round((5-datum.value)/1.85) % 2 == 0", "value": -10}, "value": -5}}},
            "text": {"field": "t"}
          }
        },
        {
          "data": {"values": [{"x": -0.3726, "y": -7.205, "t": "i"}]},
          "mark": {"type": "text", "fontSize": 35, "fontStyle": "italic", "angle": 270, "align": "left", "baseline": "alphabetic"},
          "encoding": {
            "x": {"field": "x", "type": "quantitative", "scale": {"domain": [-0.2, 1.3], "range": [38, 750], "nice": false, "zero": false}, "axis": null},
            "y": {"field": "y", "type": "quantitative", "scale": {"domain": [-13.5, 5], "nice": false, "zero": false}, "axis": null},
            "text": {"field": "t"}
          }
        },
        {
          "data": {"values": [{"x": -0.3305, "y": -6.96, "t": "D"}]},
          "mark": {"type": "text", "fontSize": 20, "angle": 270, "align": "left", "baseline": "alphabetic"},
          "encoding": {
            "x": {"field": "x", "type": "quantitative", "scale": {"domain": [-0.2, 1.3], "range": [38, 750], "nice": false, "zero": false}, "axis": null},
            "y": {"field": "y", "type": "quantitative", "scale": {"domain": [-13.5, 5], "nice": false, "zero": false}, "axis": null},
            "text": {"field": "t"}
          }
        },
        {
          "data": {"values": [{"x": -0.3937, "y": -1.994, "t": "-2"}]},
          "mark": {"type": "text", "fontSize": 19, "angle": 270, "align": "left", "baseline": "alphabetic"},
          "encoding": {
            "x": {"field": "x", "type": "quantitative", "scale": {"domain": [-0.2, 1.3], "range": [38, 750], "nice": false, "zero": false}, "axis": null},
            "y": {"field": "y", "type": "quantitative", "scale": {"domain": [-13.5, 5], "nice": false, "zero": false}, "axis": null},
            "text": {"field": "t"}
          }
        }
      ]
    },
    {
      "width": 736,
      "height": 526,
      "resolve": {"axis": {"x": "independent", "y": "independent"}},
      "layer": [
        {
          "data": {"name": "curvesB"},
          "mark": {"type": "line", "strokeWidth": 3, "interpolate": "monotone", "strokeCap": "round"},
          "encoding": {
            "x": {"field": "x", "type": "quantitative", "scale": {"domain": [-0.1, 1.0], "nice": false, "zero": false},
              "axis": {"orient": "bottom", "values": [-0.1,-0.05,0,0.05,0.1,0.15,0.2,0.25,0.3,0.35,0.4,0.45,0.5,0.55,0.6,0.65,0.7,0.75,0.8,0.85,0.9,0.95,1.0],
                "labelExpr": "abs(round(datum.value*20)) % 2 == 0 ? replace(format(datum.value, '.1f'), '\u2212', '-') : ''",
                "tickSize": {"condition": {"test": "abs(round(datum.value*20)) % 2 == 0", "value": 12}, "value": 8},
                "labelPadding": 8,
                "title": "Potential (V) vs. RHE", "titleFontSize": 31.5, "titleX": 359, "titleY": 86, "titleAlign": "center", "titleBaseline": "alphabetic"}},
            "y": {"field": "y", "type": "quantitative", "scale": {"domain": [-5.5, 0], "nice": false, "zero": false},
              "axis": {"orient": "left", "values": [-5.5,-5,-4.5,-4,-3.5,-3,-2.5,-2,-1.5,-1,-0.5,0],
                "labelExpr": "datum.value % 1 == 0 ? replace(format(datum.value, 'd'), '\u2212', '-') : ''",
                "tickSize": {"condition": {"test": "datum.value % 1 == 0", "value": 11}, "value": 6},
                "labelPadding": 7, "minExtent": 110,
                "title": "(mA cm", "titleFontSize": 39, "titleAngle": 270, "titleX": -57, "titleY": 337, "titleAlign": "left", "titleBaseline": "alphabetic"}},
            "color": {"field": "rpm", "type": "nominal",
              "scale": {"domain": ["900 rpm", "1600", "2500", "3600"], "range": ["#000000", "#ff0000", "#00ff00", "#0000ff"]},
              "legend": {"orient": "none", "legendX": 545, "legendY": 80.5, "title": null, "padding": 0,
                "symbolType": "M-5,0H1", "symbolSize": 841, "symbolStrokeWidth": 4,
                "labelFont": "Liberation Serif", "labelFontSize": 31, "labelFontWeight": "bold", "labelColor": "black",
                "labelOffset": 8, "rowPadding": 14}},
            "strokeDash": {"field": "kind", "type": "nominal", "scale": {"domain": ["dashed", "solid"], "range": [[13, 15], [1, 0]]}, "legend": null}
          }
        },
        {
          "data": {"values": [{"x": -0.0686, "y": -0.596, "t": "B"}]},
          "mark": {"type": "text", "fontSize": 48, "align": "left", "baseline": "alphabetic"},
          "encoding": {
            "x": {"field": "x", "type": "quantitative", "scale": {"domain": [-0.1, 1.0], "nice": false, "zero": false},
              "axis": {"orient": "top", "values": [0.01,0.12,0.23,0.34,0.45,0.56,0.67,0.78,0.89], "labels": false, "title": null, "minExtent": 20,
                "tickSize": {"condition": {"test": "round((datum.value+0.1)/0.11) % 2 == 0", "value": -10}, "value": -5}}},
            "y": {"field": "y", "type": "quantitative", "scale": {"domain": [-5.5, 0], "nice": false, "zero": false},
              "axis": {"orient": "right", "values": [-0.55,-1.1,-1.65,-2.2,-2.75,-3.3,-3.85,-4.4,-4.95], "labels": false, "title": null,
                "tickSize": {"condition": {"test": "round(-datum.value/0.55) % 2 == 0", "value": -13}, "value": -7}}},
            "text": {"field": "t"}
          }
        },
        {
          "data": {"values": [{"x": -0.2121, "y": -3.921, "t": "i"}]},
          "mark": {"type": "text", "fontSize": 36, "fontStyle": "italic", "angle": 270, "align": "left", "baseline": "alphabetic"},
          "encoding": {
            "x": {"field": "x", "type": "quantitative", "scale": {"domain": [-0.1, 1.0], "nice": false, "zero": false}, "axis": null},
            "y": {"field": "y", "type": "quantitative", "scale": {"domain": [-5.5, 0], "nice": false, "zero": false}, "axis": null},
            "text": {"field": "t"}
          }
        },
        {
          "data": {"values": [{"x": -0.1897, "y": -3.795, "t": "D"}]},
          "mark": {"type": "text", "fontSize": 22, "angle": 270, "align": "left", "baseline": "alphabetic"},
          "encoding": {
            "x": {"field": "x", "type": "quantitative", "scale": {"domain": [-0.1, 1.0], "nice": false, "zero": false}, "axis": null},
            "y": {"field": "y", "type": "quantitative", "scale": {"domain": [-5.5, 0], "nice": false, "zero": false}, "axis": null},
            "text": {"field": "t"}
          }
        },
        {
          "data": {"values": [{"x": -0.2255, "y": -2.112, "t": "-2"}]},
          "mark": {"type": "text", "fontSize": 20, "angle": 270, "align": "left", "baseline": "alphabetic"},
          "encoding": {
            "x": {"field": "x", "type": "quantitative", "scale": {"domain": [-0.1, 1.0], "nice": false, "zero": false}, "axis": null},
            "y": {"field": "y", "type": "quantitative", "scale": {"domain": [-5.5, 0], "nice": false, "zero": false}, "axis": null},
            "text": {"field": "t"}
          }
        },
        {
          "data": {"values": [{"x": -0.1852, "y": -1.903, "t": ")"}]},
          "mark": {"type": "text", "fontSize": 39, "angle": 270, "align": "left", "baseline": "alphabetic"},
          "encoding": {
            "x": {"field": "x", "type": "quantitative", "scale": {"domain": [-0.1, 1.0], "nice": false, "zero": false}, "axis": null},
            "y": {"field": "y", "type": "quantitative", "scale": {"domain": [-5.5, 0], "nice": false, "zero": false}, "axis": null},
            "text": {"field": "t"}
          }
        }
      ]
    }
  ],
  "columns": 1,
  "spacing": 60,
  "resolve": {"scale": {"x": "independent", "y": "independent", "color": "independent", "strokeDash": "independent"}, "legend": {"color": "independent"}}
}
